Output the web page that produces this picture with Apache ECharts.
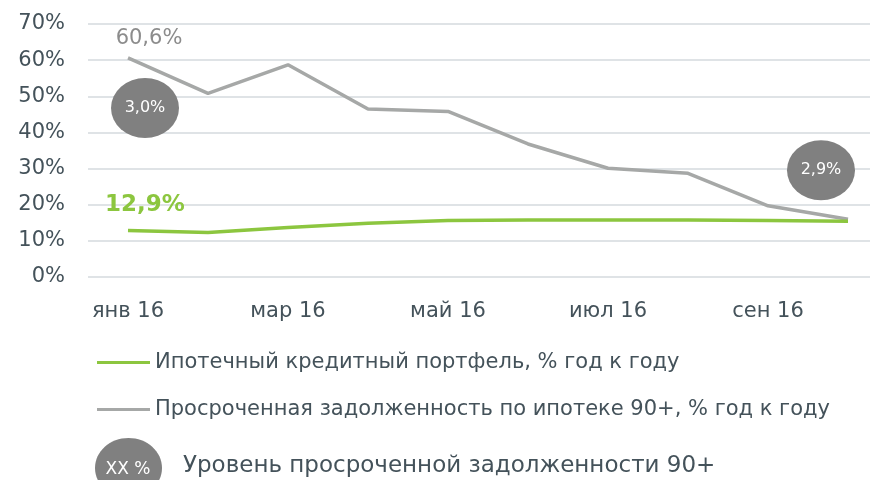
<!DOCTYPE html>
<html><head><meta charset="utf-8">
<script src="https://cdn.jsdelivr.net/npm/echarts@6/dist/echarts.min.js"></script>
<style>html,body{margin:0;padding:0;background:#fff}#c{width:870px;height:480px}</style>
</head><body><div id="c"></div>
<script>
var categories = ['янв 16','фев 16','мар 16','апр 16','май 16','июн 16','июл 16','авг 16','сен 16','окт 16'];
var portfolio = [12.9, 12.3, 13.7, 14.9, 15.6, 15.8, 15.8, 15.8, 15.6, 15.4];
var overdue = [60.6, 50.8, 58.7, 46.5, 45.8, 36.8, 30.1, 28.7, 19.7, 16.0];
var bubbleLabels = ['3,0%', '2,9%'];
var bubbleIndex = [0, 9];
var seriesNames = ['Ипотечный кредитный портфель, % год к году', 'Просроченная задолженность по ипотеке 90+, % год к году'];
var bubbleLegendText = 'Уровень просроченной задолженности 90+';
var bubbleLegendIcon = 'XX %';

var FONT = 'DejaVu Sans';
function fmt(v){ return v.toFixed(1).replace('.', ',') + '%'; }

var greenData = portfolio.map(function(v, i){
  return i === 0 ? {value: v, label: {show: true, position: 'top', distance: 14, offset: [17, 0],
    formatter: fmt(v), color: '#8cc63f', fontWeight: 'bold', fontSize: 23, fontFamily: FONT}} : v;
});
var grayData = overdue.map(function(v, i){
  return i === 0 ? {value: v, label: {show: true, position: 'top', distance: 9, offset: [21, 0],
    formatter: fmt(v), color: '#8c8c8c', fontSize: 21, fontFamily: FONT}} : v;
});

var chart = echarts.init(document.getElementById('c'), null, {renderer: 'canvas'});
chart.setOption({
  animation: false,
  grid: {left: 88, top: 24, width: 800, height: 253, containLabel: false, outerBoundsMode: 'none'},
  xAxis: {
    type: 'category', data: categories, boundaryGap: true,
    axisLine: {show: false}, axisTick: {show: false},
    axisLabel: {interval: 1, margin: 24, color: '#44525a', fontSize: 21, fontFamily: FONT}
  },
  yAxis: {
    type: 'value', min: 0, max: 70, interval: 10,
    axisLine: {show: false}, axisTick: {show: false},
    axisLabel: {formatter: '{value}%', margin: 23, color: '#44525a', fontSize: 21, fontFamily: FONT},
    splitLine: {lineStyle: {color: '#dfe3e6', width: 2}}
  },
  legend: {
    orient: 'vertical', left: 97, top: 352, itemGap: 26, padding: 0,
    data: [seriesNames[0], seriesNames[1]],
    itemWidth: 53, itemHeight: 3, icon: 'rect', itemStyle: {borderWidth: 0},
    textStyle: {color: '#44525a', fontSize: 21, fontFamily: FONT, padding: [0,0,0,0]}
  },
  series: [
    {
      name: seriesNames[1], type: 'line', data: grayData, symbol: 'circle', symbolSize: 0.1, showSymbol: true, z: 2,
      lineStyle: {color: '#a6a8a7', width: 3.5}, itemStyle: {color: '#a6a8a7'},
      markPoint: {
        symbol: 'circle', symbolSize: [68, 60],
        itemStyle: {color: '#808080'},
        label: {show: true, color: '#ffffff', fontSize: 16, fontFamily: FONT, formatter: '{b}'},
        data: [
          {name: bubbleLabels[0], coord: [bubbleIndex[0], overdue[bubbleIndex[0]]], symbolOffset: [17, 50]},
          {name: bubbleLabels[1], coord: [bubbleIndex[1], overdue[bubbleIndex[1]]], symbolOffset: [-27, -49]}
        ]
      }
    },
    {
      name: seriesNames[0], type: 'line', data: greenData, symbol: 'circle', symbolSize: 0.1, showSymbol: true, z: 3,
      lineStyle: {color: '#8cc63f', width: 3.5}, itemStyle: {color: '#8cc63f'}
    }
  ],
  graphic: [
    {type: 'ellipse', shape: {cx: 128.5, cy: 468, rx: 33.5, ry: 30}, style: {fill: '#808080'}},
    {type: 'text', x: 128, y: 470, style: {text: bubbleLegendIcon, fill: '#ffffff', fontSize: 17, fontFamily: FONT, align: 'center', verticalAlign: 'middle'}},
    {type: 'text', x: 183, y: 466, style: {text: bubbleLegendText, fill: '#44525a', fontSize: 23, fontFamily: FONT, align: 'left', verticalAlign: 'middle'}}
  ]
});
</script></body></html>
